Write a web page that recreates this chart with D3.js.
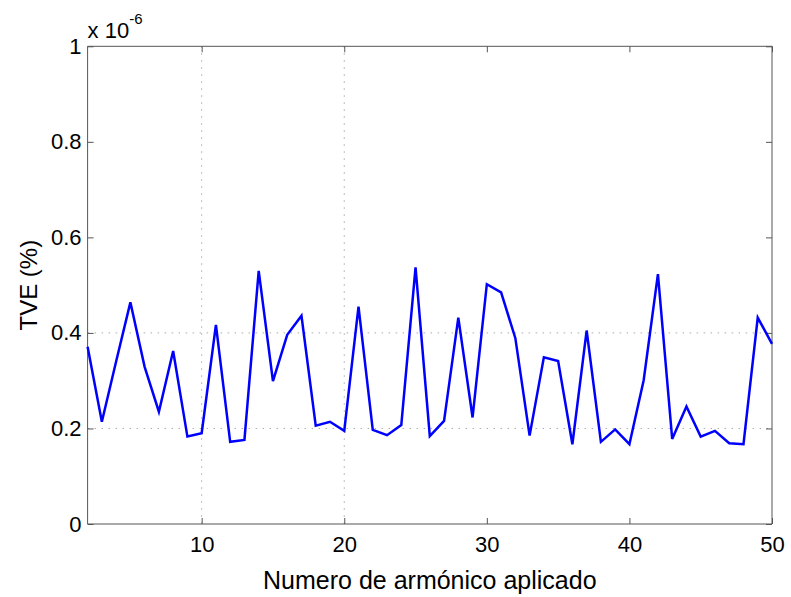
<!DOCTYPE html>
<html>
<head>
<meta charset="utf-8">
<script src="https://cdn.jsdelivr.net/npm/d3@7"></script>
<style>
  body { margin: 0; background: #fff; }
  svg { display: block; font-family: "Liberation Sans", Arial, sans-serif; }
</style>
</head>
<body>
<svg id="chart" width="791" height="597"></svg>
<script>
// Harmonic number (x) and TVE values (in units of 1e-6 %)
const harmonics = d3.range(2, 51);
const tveScaled = [
  0.371, 0.214, 0.340, 0.464, 0.329, 0.235, 0.362, 0.183, 0.190, 0.417,
  0.172, 0.176, 0.530, 0.299, 0.396, 0.436, 0.206, 0.214, 0.195, 0.455,
  0.197, 0.186, 0.207, 0.537, 0.184, 0.216, 0.432, 0.223, 0.502, 0.485,
  0.389, 0.185, 0.349, 0.341, 0.167, 0.405, 0.172, 0.198, 0.167, 0.301,
  0.523, 0.178, 0.246, 0.183, 0.195, 0.169, 0.167, 0.432, 0.377
];
const xTicks = [10, 20, 30, 40, 50];
const yTicks = [0, 0.2, 0.4, 0.6, 0.8, 1];
const xGrid = [10, 20];
const yGrid = [0.2, 0.4];

const svg = d3.select("#chart");
const L = 87.6, R = 772, T = 46.3, B = 524;
const x = d3.scaleLinear().domain([2, 50]).range([L, R]);
const y = d3.scaleLinear().domain([0, 1]).range([B, T]);

const axisColor = "#555";
const fs = 22;

// grid
svg.append("g").selectAll("line").data(xGrid).join("line")
  .attr("x1", d => x(d)).attr("x2", d => x(d))
  .attr("y1", T).attr("y2", B)
  .attr("stroke", "#aaa").attr("stroke-width", 1).attr("stroke-dasharray", "1.5,5.5");
svg.append("g").selectAll("line").data(yGrid).join("line")
  .attr("x1", L).attr("x2", R)
  .attr("y1", d => y(d)).attr("y2", d => y(d))
  .attr("stroke", "#aaa").attr("stroke-width", 1).attr("stroke-dasharray", "1.5,5.5");

// axes (inward ticks, box)
const axB = d3.axisBottom(x).tickValues(xTicks).tickSize(-6).tickPadding(12).tickFormat(d3.format("d"));
const axT = d3.axisTop(x).tickValues(xTicks).tickSize(-6).tickFormat("");
const axL = d3.axisLeft(y).tickValues(yTicks).tickSize(-6).tickPadding(6).tickFormat(d => d === 0 || d === 1 ? d3.format("d")(d) : d3.format(".1f")(d));
const axR = d3.axisRight(y).tickValues(yTicks).tickSize(-6).tickFormat("");

function style(g) {
  g.selectAll("path").attr("stroke", axisColor).attr("stroke-width", 1);
  g.selectAll("line").attr("stroke", axisColor).attr("stroke-width", 1);
  g.selectAll("text").attr("fill", "#000").style("font-size", fs + "px")
    .style("font-family", '"Liberation Sans", Arial, sans-serif');
}
svg.append("g").attr("transform", `translate(0,${B})`).call(axB).call(style)
  .call(g => g.select(".domain").attr("d", `M${L},0H${R}`));
svg.append("g").attr("transform", `translate(0,${T})`).call(axT).call(style)
  .call(g => g.select(".domain").attr("d", `M${L},0H${R}`));
svg.append("g").attr("transform", `translate(${L},0)`).call(axL).call(style)
  .call(g => g.select(".domain").attr("d", `M0,${T}V${B}`));
svg.append("g").attr("transform", `translate(${R},0)`).call(axR).call(style)
  .call(g => g.select(".domain").attr("d", `M0,${T}V${B}`));

// line
const line = d3.line().x((d, i) => x(harmonics[i])).y(d => y(d));
svg.append("path").datum(tveScaled)
  .attr("d", line).attr("fill", "none")
  .attr("stroke", "#0000ff").attr("stroke-width", 2.5).attr("stroke-linejoin", "miter");

// exponent label
const ex = svg.append("text").attr("x", L).attr("y", 38).style("font-size", fs + "px").attr("fill", "#000");
ex.append("tspan").text("x 10");
ex.append("tspan").attr("dy", -14).style("font-size", "15px").text("-6");

// axis titles
svg.append("text").attr("x", (L + R) / 2).attr("y", 589).attr("text-anchor", "middle")
  .style("font-size", "25px").attr("fill", "#000").text("Numero de armónico aplicado");
svg.append("text").attr("transform", `translate(37,${(T + B) / 2}) rotate(-90)`)
  .attr("text-anchor", "middle").style("font-size", "24px").attr("fill", "#000").text("TVE (%)");
</script>
</body>
</html>
